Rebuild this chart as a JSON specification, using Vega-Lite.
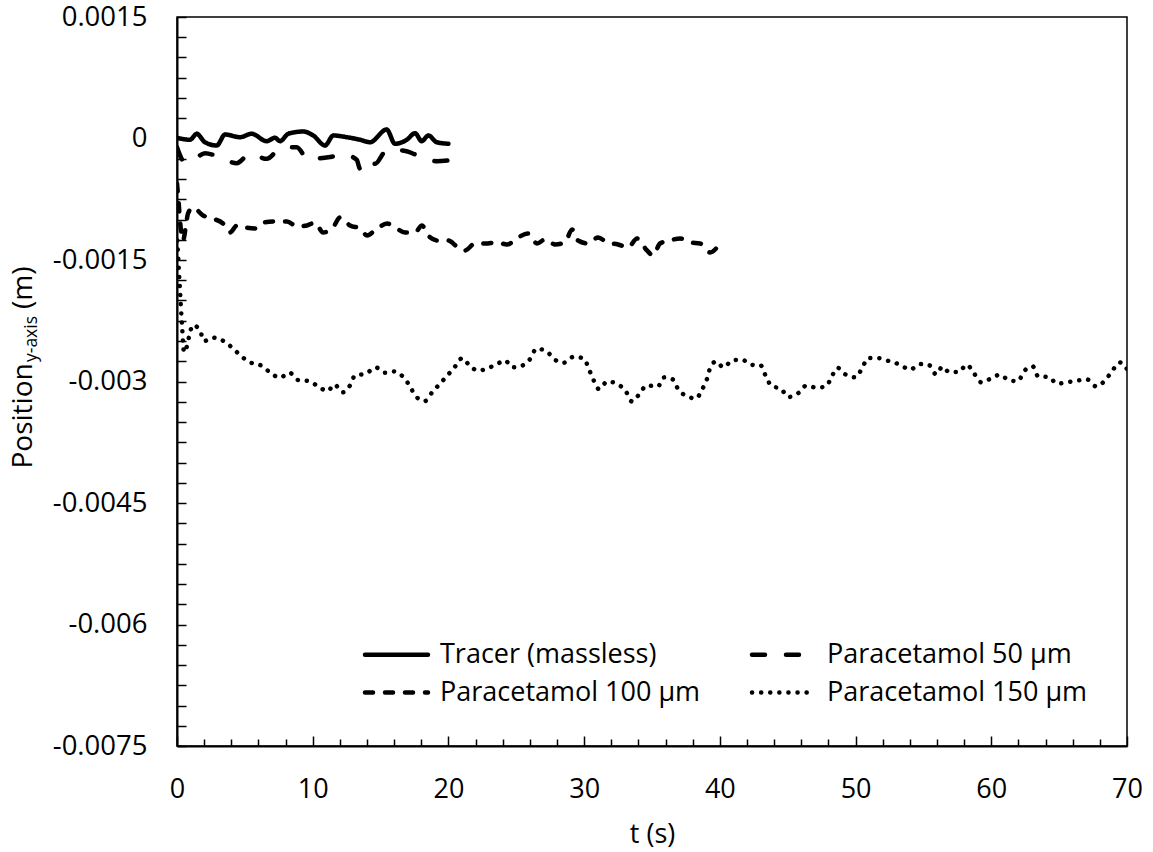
{
  "$schema": "https://vega.github.io/schema/vega-lite/v6.json",
  "width": 950,
  "height": 729,
  "autosize": "none",
  "padding": {"left": 177, "top": 17, "right": 26, "bottom": 106},
  "background": "white",
  "config": {
    "font": "Open Sans",
    "view": {"stroke": "black", "strokeWidth": 1.5}
  },
  "datasets": {
    "d": [
      {"s": "Tracer (massless)", "t": 0, "y": 0.0000086},
      {"s": "Tracer (massless)", "t": 0.96, "y": -0.000016},
      {"s": "Tracer (massless)", "t": 1.45, "y": 0.000058},
      {"s": "Tracer (massless)", "t": 2.06, "y": -0.000046},
      {"s": "Tracer (massless)", "t": 2.93, "y": -0.000086},
      {"s": "Tracer (massless)", "t": 3.54, "y": 0.000049},
      {"s": "Tracer (massless)", "t": 4.64, "y": 0.000016},
      {"s": "Tracer (massless)", "t": 5.5, "y": 0.000058},
      {"s": "Tracer (massless)", "t": 6.61, "y": -0.000033},
      {"s": "Tracer (massless)", "t": 7.22, "y": 0.000009},
      {"s": "Tracer (massless)", "t": 7.59, "y": -0.000033},
      {"s": "Tracer (massless)", "t": 8.2, "y": 0.000058},
      {"s": "Tracer (massless)", "t": 9.31, "y": 0.000086},
      {"s": "Tracer (massless)", "t": 10.04, "y": 0.000037},
      {"s": "Tracer (massless)", "t": 10.91, "y": -0.000086},
      {"s": "Tracer (massless)", "t": 11.52, "y": 0.000037},
      {"s": "Tracer (massless)", "t": 12.51, "y": 0.000016},
      {"s": "Tracer (massless)", "t": 13.49, "y": -0.000016},
      {"s": "Tracer (massless)", "t": 14.22, "y": -0.000046},
      {"s": "Tracer (massless)", "t": 15.45, "y": 0.000111},
      {"s": "Tracer (massless)", "t": 16.06, "y": -0.000065},
      {"s": "Tracer (massless)", "t": 16.93, "y": -0.000016},
      {"s": "Tracer (massless)", "t": 17.54, "y": 0.000065},
      {"s": "Tracer (massless)", "t": 18.03, "y": -0.000033},
      {"s": "Tracer (massless)", "t": 18.52, "y": 0.000037},
      {"s": "Tracer (massless)", "t": 19.14, "y": -0.000046},
      {"s": "Tracer (massless)", "t": 20.0, "y": -0.000065},

      {"s": "Paracetamol 50 µm", "t": 0, "y": -0.000107},
      {"s": "Paracetamol 50 µm", "t": 0.59, "y": -0.000292},
      {"s": "Paracetamol 50 µm", "t": 1.33, "y": -0.000247},
      {"s": "Paracetamol 50 µm", "t": 2.06, "y": -0.000181},
      {"s": "Paracetamol 50 µm", "t": 3.17, "y": -0.000231},
      {"s": "Paracetamol 50 µm", "t": 4.4, "y": -0.000305},
      {"s": "Paracetamol 50 µm", "t": 5.38, "y": -0.000189},
      {"s": "Paracetamol 50 µm", "t": 6.61, "y": -0.000251},
      {"s": "Paracetamol 50 µm", "t": 7.59, "y": -0.000127},
      {"s": "Paracetamol 50 µm", "t": 8.82, "y": -0.000107},
      {"s": "Paracetamol 50 µm", "t": 9.68, "y": -0.000263},
      {"s": "Paracetamol 50 µm", "t": 10.39, "y": -0.000247},
      {"s": "Paracetamol 50 µm", "t": 11.15, "y": -0.000231},
      {"s": "Paracetamol 50 µm", "t": 12.38, "y": -0.000201},
      {"s": "Paracetamol 50 µm", "t": 13.24, "y": -0.000263},
      {"s": "Paracetamol 50 µm", "t": 13.49, "y": -0.000374},
      {"s": "Paracetamol 50 µm", "t": 13.85, "y": -0.000271},
      {"s": "Paracetamol 50 µm", "t": 14.59, "y": -0.000312},
      {"s": "Paracetamol 50 µm", "t": 15.45, "y": -0.000148},
      {"s": "Paracetamol 50 µm", "t": 16.56, "y": -0.000148},
      {"s": "Paracetamol 50 µm", "t": 17.78, "y": -0.00021},
      {"s": "Paracetamol 50 µm", "t": 19.14, "y": -0.00028},
      {"s": "Paracetamol 50 µm", "t": 20.0, "y": -0.000271},

      {"s": "Paracetamol 100 µm", "t": 0, "y": -0.000555},
      {"s": "Paracetamol 100 µm", "t": 0.11, "y": -0.000765},
      {"s": "Paracetamol 100 µm", "t": 0.22, "y": -0.001012},
      {"s": "Paracetamol 100 µm", "t": 0.44, "y": -0.001259},
      {"s": "Paracetamol 100 µm", "t": 0.66, "y": -0.001074},
      {"s": "Paracetamol 100 µm", "t": 0.81, "y": -0.000926},
      {"s": "Paracetamol 100 µm", "t": 1.18, "y": -0.000851},
      {"s": "Paracetamol 100 µm", "t": 1.92, "y": -0.00095},
      {"s": "Paracetamol 100 µm", "t": 2.58, "y": -0.000987},
      {"s": "Paracetamol 100 µm", "t": 3.39, "y": -0.001049},
      {"s": "Paracetamol 100 µm", "t": 3.91, "y": -0.00116},
      {"s": "Paracetamol 100 µm", "t": 4.42, "y": -0.001074},
      {"s": "Paracetamol 100 µm", "t": 5.01, "y": -0.001098},
      {"s": "Paracetamol 100 µm", "t": 5.75, "y": -0.001111},
      {"s": "Paracetamol 100 µm", "t": 6.34, "y": -0.001037},
      {"s": "Paracetamol 100 µm", "t": 7.37, "y": -0.001024},
      {"s": "Paracetamol 100 µm", "t": 8.11, "y": -0.001024},
      {"s": "Paracetamol 100 µm", "t": 8.84, "y": -0.001086},
      {"s": "Paracetamol 100 µm", "t": 9.58, "y": -0.001074},
      {"s": "Paracetamol 100 µm", "t": 10.17, "y": -0.001037},
      {"s": "Paracetamol 100 µm", "t": 10.76, "y": -0.00116},
      {"s": "Paracetamol 100 µm", "t": 11.5, "y": -0.001098},
      {"s": "Paracetamol 100 µm", "t": 12.01, "y": -0.000975},
      {"s": "Paracetamol 100 µm", "t": 12.75, "y": -0.001074},
      {"s": "Paracetamol 100 µm", "t": 13.49, "y": -0.001111},
      {"s": "Paracetamol 100 µm", "t": 14.0, "y": -0.001197},
      {"s": "Paracetamol 100 µm", "t": 14.59, "y": -0.001135},
      {"s": "Paracetamol 100 µm", "t": 15.48, "y": -0.001049},
      {"s": "Paracetamol 100 µm", "t": 16.06, "y": -0.001098},
      {"s": "Paracetamol 100 µm", "t": 16.8, "y": -0.00116},
      {"s": "Paracetamol 100 µm", "t": 17.54, "y": -0.00116},
      {"s": "Paracetamol 100 µm", "t": 18.05, "y": -0.001074},
      {"s": "Paracetamol 100 µm", "t": 18.5, "y": -0.001197},
      {"s": "Paracetamol 100 µm", "t": 19.23, "y": -0.001259},
      {"s": "Paracetamol 100 µm", "t": 19.97, "y": -0.001259},
      {"s": "Paracetamol 100 µm", "t": 20.71, "y": -0.001345},
      {"s": "Paracetamol 100 µm", "t": 21.22, "y": -0.001382},
      {"s": "Paracetamol 100 µm", "t": 21.96, "y": -0.001296},
      {"s": "Paracetamol 100 µm", "t": 22.7, "y": -0.001296},
      {"s": "Paracetamol 100 µm", "t": 23.58, "y": -0.001283},
      {"s": "Paracetamol 100 µm", "t": 24.32, "y": -0.001308},
      {"s": "Paracetamol 100 µm", "t": 25.13, "y": -0.001222},
      {"s": "Paracetamol 100 µm", "t": 25.87, "y": -0.001172},
      {"s": "Paracetamol 100 µm", "t": 26.53, "y": -0.001296},
      {"s": "Paracetamol 100 µm", "t": 27.12, "y": -0.001246},
      {"s": "Paracetamol 100 µm", "t": 27.86, "y": -0.001308},
      {"s": "Paracetamol 100 µm", "t": 28.59, "y": -0.001283},
      {"s": "Paracetamol 100 µm", "t": 29.11, "y": -0.001123},
      {"s": "Paracetamol 100 µm", "t": 29.55, "y": -0.001259},
      {"s": "Paracetamol 100 µm", "t": 30.29, "y": -0.001296},
      {"s": "Paracetamol 100 µm", "t": 31.03, "y": -0.001222},
      {"s": "Paracetamol 100 µm", "t": 31.69, "y": -0.001283},
      {"s": "Paracetamol 100 µm", "t": 32.5, "y": -0.001308},
      {"s": "Paracetamol 100 µm", "t": 33.24, "y": -0.001345},
      {"s": "Paracetamol 100 µm", "t": 33.9, "y": -0.001234},
      {"s": "Paracetamol 100 µm", "t": 34.63, "y": -0.001382},
      {"s": "Paracetamol 100 µm", "t": 35.08, "y": -0.001444},
      {"s": "Paracetamol 100 µm", "t": 35.59, "y": -0.001296},
      {"s": "Paracetamol 100 µm", "t": 36.33, "y": -0.001259},
      {"s": "Paracetamol 100 µm", "t": 37.07, "y": -0.001234},
      {"s": "Paracetamol 100 µm", "t": 37.8, "y": -0.001283},
      {"s": "Paracetamol 100 µm", "t": 38.54, "y": -0.001296},
      {"s": "Paracetamol 100 µm", "t": 39.28, "y": -0.001407},
      {"s": "Paracetamol 100 µm", "t": 40.0, "y": -0.001296},

      {"s": "Paracetamol 150 µm", "t": 0.02, "y": -0.001259},
      {"s": "Paracetamol 150 µm", "t": 0.22, "y": -0.001876},
      {"s": "Paracetamol 150 µm", "t": 0.37, "y": -0.002308},
      {"s": "Paracetamol 150 µm", "t": 0.52, "y": -0.002641},
      {"s": "Paracetamol 150 µm", "t": 0.71, "y": -0.002575},
      {"s": "Paracetamol 150 µm", "t": 0.91, "y": -0.002431},
      {"s": "Paracetamol 150 µm", "t": 1.16, "y": -0.002304},
      {"s": "Paracetamol 150 µm", "t": 1.69, "y": -0.002369},
      {"s": "Paracetamol 150 µm", "t": 1.99, "y": -0.002501},
      {"s": "Paracetamol 150 µm", "t": 2.67, "y": -0.002459},
      {"s": "Paracetamol 150 µm", "t": 3.24, "y": -0.002484},
      {"s": "Paracetamol 150 µm", "t": 3.78, "y": -0.002542},
      {"s": "Paracetamol 150 µm", "t": 4.33, "y": -0.002625},
      {"s": "Paracetamol 150 µm", "t": 4.94, "y": -0.002715},
      {"s": "Paracetamol 150 µm", "t": 5.62, "y": -0.00278},
      {"s": "Paracetamol 150 µm", "t": 6.24, "y": -0.002805},
      {"s": "Paracetamol 150 µm", "t": 6.85, "y": -0.002888},
      {"s": "Paracetamol 150 µm", "t": 7.59, "y": -0.002953},
      {"s": "Paracetamol 150 µm", "t": 8.28, "y": -0.002891},
      {"s": "Paracetamol 150 µm", "t": 8.94, "y": -0.002983},
      {"s": "Paracetamol 150 µm", "t": 9.73, "y": -0.002995},
      {"s": "Paracetamol 150 µm", "t": 10.46, "y": -0.003069},
      {"s": "Paracetamol 150 µm", "t": 11.11, "y": -0.003118},
      {"s": "Paracetamol 150 µm", "t": 11.59, "y": -0.003036},
      {"s": "Paracetamol 150 µm", "t": 12.21, "y": -0.003134},
      {"s": "Paracetamol 150 µm", "t": 12.75, "y": -0.003048},
      {"s": "Paracetamol 150 µm", "t": 13.12, "y": -0.002925},
      {"s": "Paracetamol 150 µm", "t": 13.91, "y": -0.002904},
      {"s": "Paracetamol 150 µm", "t": 14.64, "y": -0.002826},
      {"s": "Paracetamol 150 µm", "t": 15.33, "y": -0.002891},
      {"s": "Paracetamol 150 µm", "t": 15.94, "y": -0.002875},
      {"s": "Paracetamol 150 µm", "t": 16.68, "y": -0.002946},
      {"s": "Paracetamol 150 µm", "t": 17.17, "y": -0.00306},
      {"s": "Paracetamol 150 µm", "t": 17.59, "y": -0.003184},
      {"s": "Paracetamol 150 µm", "t": 18.28, "y": -0.003241},
      {"s": "Paracetamol 150 µm", "t": 18.81, "y": -0.003131},
      {"s": "Paracetamol 150 µm", "t": 19.38, "y": -0.003027},
      {"s": "Paracetamol 150 µm", "t": 19.95, "y": -0.002921},
      {"s": "Paracetamol 150 µm", "t": 20.48, "y": -0.002817},
      {"s": "Paracetamol 150 µm", "t": 21.02, "y": -0.002711},
      {"s": "Paracetamol 150 µm", "t": 21.59, "y": -0.00281},
      {"s": "Paracetamol 150 µm", "t": 22.2, "y": -0.002867},
      {"s": "Paracetamol 150 µm", "t": 22.87, "y": -0.002838},
      {"s": "Paracetamol 150 µm", "t": 23.58, "y": -0.002785},
      {"s": "Paracetamol 150 µm", "t": 24.17, "y": -0.002739},
      {"s": "Paracetamol 150 µm", "t": 24.71, "y": -0.002826},
      {"s": "Paracetamol 150 µm", "t": 25.42, "y": -0.002805},
      {"s": "Paracetamol 150 µm", "t": 26.04, "y": -0.002718},
      {"s": "Paracetamol 150 µm", "t": 26.48, "y": -0.002595},
      {"s": "Paracetamol 150 µm", "t": 27.24, "y": -0.002628},
      {"s": "Paracetamol 150 µm", "t": 27.8, "y": -0.002727},
      {"s": "Paracetamol 150 µm", "t": 28.5, "y": -0.002768},
      {"s": "Paracetamol 150 µm", "t": 29.23, "y": -0.002694},
      {"s": "Paracetamol 150 µm", "t": 29.99, "y": -0.002719},
      {"s": "Paracetamol 150 µm", "t": 30.36, "y": -0.002851},
      {"s": "Paracetamol 150 µm", "t": 30.68, "y": -0.002978},
      {"s": "Paracetamol 150 µm", "t": 31.1, "y": -0.003094},
      {"s": "Paracetamol 150 µm", "t": 31.71, "y": -0.002999},
      {"s": "Paracetamol 150 µm", "t": 32.45, "y": -0.003032},
      {"s": "Paracetamol 150 µm", "t": 33.09, "y": -0.003126},
      {"s": "Paracetamol 150 µm", "t": 33.51, "y": -0.003246},
      {"s": "Paracetamol 150 µm", "t": 34.07, "y": -0.003155},
      {"s": "Paracetamol 150 µm", "t": 34.61, "y": -0.003048},
      {"s": "Paracetamol 150 µm", "t": 35.42, "y": -0.003064},
      {"s": "Paracetamol 150 µm", "t": 35.89, "y": -0.002949},
      {"s": "Paracetamol 150 µm", "t": 36.53, "y": -0.002974},
      {"s": "Paracetamol 150 µm", "t": 36.94, "y": -0.003101},
      {"s": "Paracetamol 150 µm", "t": 37.6, "y": -0.00318},
      {"s": "Paracetamol 150 µm", "t": 38.22, "y": -0.003212},
      {"s": "Paracetamol 150 µm", "t": 38.71, "y": -0.003094},
      {"s": "Paracetamol 150 µm", "t": 39.06, "y": -0.002965},
      {"s": "Paracetamol 150 µm", "t": 39.3, "y": -0.002826},
      {"s": "Paracetamol 150 µm", "t": 39.72, "y": -0.002752},
      {"s": "Paracetamol 150 µm", "t": 40.26, "y": -0.002826},
      {"s": "Paracetamol 150 µm", "t": 40.92, "y": -0.002739},
      {"s": "Paracetamol 150 µm", "t": 41.64, "y": -0.002731},
      {"s": "Paracetamol 150 µm", "t": 42.28, "y": -0.002793},
      {"s": "Paracetamol 150 µm", "t": 43.01, "y": -0.002801},
      {"s": "Paracetamol 150 µm", "t": 43.38, "y": -0.002933},
      {"s": "Paracetamol 150 µm", "t": 43.82, "y": -0.003057},
      {"s": "Paracetamol 150 µm", "t": 44.49, "y": -0.003089},
      {"s": "Paracetamol 150 µm", "t": 45.05, "y": -0.003192},
      {"s": "Paracetamol 150 µm", "t": 45.78, "y": -0.003143},
      {"s": "Paracetamol 150 µm", "t": 46.4, "y": -0.003048},
      {"s": "Paracetamol 150 µm", "t": 47.09, "y": -0.003076},
      {"s": "Paracetamol 150 µm", "t": 47.83, "y": -0.00306},
      {"s": "Paracetamol 150 µm", "t": 48.25, "y": -0.002937},
      {"s": "Paracetamol 150 µm", "t": 48.66, "y": -0.00283},
      {"s": "Paracetamol 150 µm", "t": 49.25, "y": -0.002912},
      {"s": "Paracetamol 150 µm", "t": 50.01, "y": -0.002949},
      {"s": "Paracetamol 150 µm", "t": 50.48, "y": -0.002835},
      {"s": "Paracetamol 150 µm", "t": 50.92, "y": -0.002711},
      {"s": "Paracetamol 150 µm", "t": 51.68, "y": -0.002711},
      {"s": "Paracetamol 150 µm", "t": 52.47, "y": -0.002748},
      {"s": "Paracetamol 150 µm", "t": 53.28, "y": -0.002793},
      {"s": "Paracetamol 150 µm", "t": 54.02, "y": -0.002854},
      {"s": "Paracetamol 150 µm", "t": 54.73, "y": -0.002785},
      {"s": "Paracetamol 150 µm", "t": 55.42, "y": -0.002798},
      {"s": "Paracetamol 150 µm", "t": 55.93, "y": -0.002912},
      {"s": "Paracetamol 150 µm", "t": 56.4, "y": -0.002817},
      {"s": "Paracetamol 150 µm", "t": 56.89, "y": -0.002884},
      {"s": "Paracetamol 150 µm", "t": 57.6, "y": -0.002884},
      {"s": "Paracetamol 150 µm", "t": 58.19, "y": -0.002793},
      {"s": "Paracetamol 150 µm", "t": 58.73, "y": -0.0029},
      {"s": "Paracetamol 150 µm", "t": 59.27, "y": -0.003011},
      {"s": "Paracetamol 150 µm", "t": 59.89, "y": -0.00297},
      {"s": "Paracetamol 150 µm", "t": 60.65, "y": -0.002916},
      {"s": "Paracetamol 150 µm", "t": 61.31, "y": -0.002986},
      {"s": "Paracetamol 150 µm", "t": 61.97, "y": -0.002995},
      {"s": "Paracetamol 150 µm", "t": 62.42, "y": -0.002872},
      {"s": "Paracetamol 150 µm", "t": 63.06, "y": -0.002814},
      {"s": "Paracetamol 150 µm", "t": 63.45, "y": -0.002937},
      {"s": "Paracetamol 150 µm", "t": 64.24, "y": -0.002946},
      {"s": "Paracetamol 150 µm", "t": 64.85, "y": -0.003027},
      {"s": "Paracetamol 150 µm", "t": 65.52, "y": -0.003011},
      {"s": "Paracetamol 150 µm", "t": 66.3, "y": -0.00299},
      {"s": "Paracetamol 150 µm", "t": 67.06, "y": -0.002974},
      {"s": "Paracetamol 150 µm", "t": 67.7, "y": -0.00306},
      {"s": "Paracetamol 150 µm", "t": 68.39, "y": -0.002986},
      {"s": "Paracetamol 150 µm", "t": 68.9, "y": -0.002872},
      {"s": "Paracetamol 150 µm", "t": 69.47, "y": -0.002764},
      {"s": "Paracetamol 150 µm", "t": 70.0, "y": -0.002847}
    ]
  },
  "data": {"name": "d"},
  "encoding": {
    "x": {
      "field": "t",
      "type": "quantitative",
      "scale": {"domain": [0, 70], "nice": false, "zero": false},
      "axis": {
        "values": [0, 2, 4, 6, 8, 10, 12, 14, 16, 18, 20, 22, 24, 26, 28, 30, 32, 34, 36, 38, 40, 42, 44, 46, 48, 50, 52, 54, 56, 58, 60, 62, 64, 66, 68, 70],
        "labelExpr": "datum.value % 10 === 0 ? datum.label : ''",
        "tickSize": {"condition": {"test": "datum.value % 10 === 0", "value": -10}, "value": -7},
        "tickWidth": 1.5,
        "tickColor": "black",
        "domainColor": "black",
        "domainWidth": 2,
        "grid": false,
        "labelFontSize": 27,
        "labelColor": "black",
        "labelPadding": 40,
        "labelFlush": false,
        "labelOverlap": false,
        "title": "t (s)",
        "titleFontSize": 27,
        "titleFontWeight": "normal",
        "titleColor": "black",
        "titleBaseline": "alphabetic",
        "titleY": 96
      }
    }
  },
  "layer": [
    {
      "mark": {"type": "line", "strokeWidth": 4.5, "color": "black", "strokeCap": "round", "strokeJoin": "round", "clip": true, "interpolate": "monotone"},
      "encoding": {
        "y": {
          "field": "y",
          "type": "quantitative",
          "scale": {"domain": [-0.0075, 0.0015], "nice": false, "zero": false},
          "axis": {
            "orient": "left",
            "values": [-0.0075, -0.00725, -0.007, -0.00675, -0.0065, -0.00625, -0.006, -0.00575, -0.0055, -0.00525, -0.005, -0.00475, -0.0045, -0.00425, -0.004, -0.00375, -0.0035, -0.00325, -0.003, -0.00275, -0.0025, -0.00225, -0.002, -0.00175, -0.0015, -0.00125, -0.001, -0.00075, -0.0005, -0.00025, 0, 0.00025, 0.0005, 0.00075, 0.001, 0.00125, 0.0015],
            "labelExpr": "abs(datum.value / 0.0015 - round(datum.value / 0.0015)) < 0.001 ? toString(datum.value) : ''",
            "tickSize": -9,
            "tickWidth": 1.5,
            "tickColor": "black",
            "domainColor": "black",
            "domainWidth": 2,
            "grid": false,
            "labelFontSize": 27.5,
            "labelColor": "black",
            "labelPadding": 39,
            "labelFlush": false,
            "labelOverlap": false,
            "title": "Position",
            "titleFontSize": 28,
            "titleFontWeight": "normal",
            "titleColor": "black",
            "titleAngle": 270,
            "titleAlign": "left",
            "titleBaseline": "alphabetic",
            "titleX": -146,
            "titleY": 451
          }
        },
        "strokeDash": {
          "field": "s",
          "type": "nominal",
          "scale": {
            "domain": ["Tracer (massless)", "Paracetamol 100 µm", "Paracetamol 50 µm", "Paracetamol 150 µm"],
            "range": [[1, 0], [8, 12], [13, 21], [0.1, 9]]
          },
          "legend": {
            "title": null,
            "orient": "none",
            "legendX": 188,
            "legendY": 624,
            "columns": 2,
            "columnPadding": 42,
            "rowPadding": 10,
            "padding": 0,
            "symbolType": "M-3,0H3",
            "symbolSize": 441,
            "symbolStrokeWidth": 4.5,
            "symbolStrokeColor": "black",
            "symbolOffset": 18,
            "labelOffset": 30,
            "labelFontSize": 27,
            "labelColor": "black",
            "labelLimit": 600,
            "encode": {"symbols": {"update": {"strokeCap": {"value": "round"}}}}
          }
        }
      }
    },
    {
      "transform": [{"filter": "false"}],
      "mark": {"type": "line"},
      "encoding": {
        "y": {
          "field": "y",
          "type": "quantitative",
          "scale": {"domain": [-0.0075, 0.0015], "nice": false, "zero": false},
          "axis": {
            "orient": "left",
            "ticks": false,
            "labels": false,
            "domain": false,
            "grid": false,
            "title": "y-axis",
            "titleFontSize": 17.5,
            "titleFontWeight": "normal",
            "titleColor": "black",
            "titleAngle": 270,
            "titleAlign": "left",
            "titleBaseline": "alphabetic",
            "titleX": -141,
            "titleY": 344.5
          }
        }
      }
    },
    {
      "transform": [{"filter": "false"}],
      "mark": {"type": "line"},
      "encoding": {
        "y": {
          "field": "y",
          "type": "quantitative",
          "scale": {"domain": [-0.0075, 0.0015], "nice": false, "zero": false},
          "axis": {
            "orient": "left",
            "ticks": false,
            "labels": false,
            "domain": false,
            "grid": false,
            "title": "(m)",
            "titleFontSize": 28,
            "titleFontWeight": "normal",
            "titleColor": "black",
            "titleAngle": 270,
            "titleAlign": "left",
            "titleBaseline": "alphabetic",
            "titleX": -146,
            "titleY": 291.5
          }
        }
      }
    }
  ],
  "resolve": {"axis": {"y": "independent"}}
}
